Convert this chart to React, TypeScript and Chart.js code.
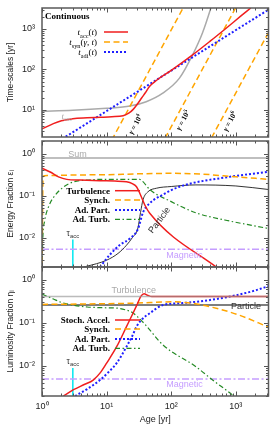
import React, { useEffect, useRef } from 'react';
import { Chart, registerables } from 'chart.js';

Chart.register(...registerables);

const SANS = '"Liberation Sans", Arial, Helvetica, sans-serif';
const SERIF = '"Liberation Serif", "Times New Roman", serif';

const RED = '#f01e1e';
const ORANGE = '#ffa500';
const BLUE = '#1f1fff';
const GREEN = '#248a24';
const GREY = '#aaaaaa';
const LAV = '#c59dff';
const CYAN = '#00e8f0';
const DARK = '#333333';

// ---------- shared age axis ----------
const AGE_MIN = 1;
const AGE_MAX = 3200;
const AGE_TICKS = [1, 10, 100, 1000];
const TAU_ACC = 3.0;
const TAU_LINE = [0.001, 0.009];

// ---------- panel 1 : time-scales ----------
const TS_MIN = 2.15;
const TS_MAX = 3300;
const TS_TICKS = [10, 100, 1000];
const T_ACC_AGE = [1, 1.5, 2, 3, 5, 8, 12, 18, 22, 26, 30, 35, 40, 46, 60, 100, 214, 400, 700, 1200, 1700];
const T_ACC_VAL = [3.4, 4.6, 5.4, 6.1, 6.4, 6.6, 6.8, 7.2, 8.3, 10.5, 14, 20, 27, 38, 55, 95, 229, 500, 1030, 2100, 3300];
const T_ADI_AGE = [1, 3200];
const T_ADI_VAL = [0.94, 3000];
const T_ESC_AGE = [1, 3, 10, 23, 41, 74, 134, 214, 303, 410, 450];
const T_ESC_VAL = [9.3, 9.8, 11, 12.5, 16, 26, 61, 229, 785, 3300, 5500];
const SYN_G4_AGE = [12, 160];
const SYN_G4_VAL = [1.8, 3800];
const SYN_G5_AGE = [80, 1000];
const SYN_G5_VAL = [2.0, 3400];
const SYN_G6_AGE = [420, 3200];
const SYN_G6_VAL = [2.05, 820];
const GAMMA_EXP = ['4', '5', '6'];

// ---------- panel 2 : energy fraction ----------
const FR_MIN = 0.002;
const FR_MAX = 2;
const FR_TICKS = [0.01, 0.1, 1];
const E_SUM = 0.79;
const E_MAG = 0.0053;
const E_TURB_AGE = [1, 1.34, 1.8, 2.42, 3.9, 7.9, 13.4, 20.3, 25.4, 29, 32.6, 39, 46.5, 600];
const E_TURB_VAL = [0.45, 0.365, 0.28, 0.244, 0.235, 0.227, 0.222, 0.214, 0.19, 0.163, 0.114, 0.06, 0.038, 0.0016];
const E_SYN_AGE = [1, 1.04, 1.2, 3, 10, 30, 100, 300, 1000, 3200];
const E_SYN_VAL = [0.0015, 0.29, 0.3, 0.31, 0.315, 0.33, 0.34, 0.325, 0.28, 0.245];
const E_ADP_AGE = [7.9, 11.2, 16, 22.9, 30.5, 36.6, 46.5, 73, 134, 792, 3200];
const E_ADP_VAL = [0.002, 0.0039, 0.0067, 0.0095, 0.016, 0.04, 0.066, 0.104, 0.163, 0.28, 0.37];
const E_ADT_AGE = [1, 1.03, 1.1, 1.26, 1.5, 2.15, 3, 4.9, 10, 32.6, 36.5, 46.5, 100, 241, 700, 3200];
const E_ADT_VAL = [0.0015, 0.01, 0.025, 0.054, 0.09, 0.16, 0.21, 0.235, 0.245, 0.244, 0.215, 0.14, 0.072, 0.039, 0.026, 0.0165];
const E_PART_AGE = [4.4, 7, 10, 15, 20.3, 25, 30.5, 33.5, 36.6, 43.7, 58.8, 100, 241, 1000, 3200];
const E_PART_VAL = [0.002, 0.0024, 0.0029, 0.0042, 0.0066, 0.01, 0.017, 0.04, 0.08, 0.124, 0.15, 0.165, 0.18, 0.17, 0.14];

// ---------- panel 3 : luminosity fraction ----------
const L_TURB = 0.41;
const L_PART = 0.26;
const L_MAG = 0.005;
const L_STO_AGE = [2.15, 3.07, 4.5, 6.2, 8, 10, 14.3, 20.3, 25.6, 30, 34, 38, 43, 50, 100, 3200];
const L_STO_VAL = [0.002, 0.0028, 0.0037, 0.0047, 0.007, 0.0116, 0.028, 0.082, 0.168, 0.28, 0.42, 0.48, 0.44, 0.41, 0.41, 0.41];
const L_SYN_AGE = [1, 10, 30, 100, 200, 437, 1100, 3200];
const L_SYN_VAL = [0.27, 0.28, 0.29, 0.31, 0.29, 0.23, 0.154, 0.08];
const L_ADP_AGE = [3.25, 5, 7.9, 11, 14.3, 20.3, 25, 29, 35, 46.5, 74, 150, 241, 500, 1000, 2000, 3200];
const L_ADP_VAL = [0.002, 0.0029, 0.0047, 0.0075, 0.0116, 0.028, 0.05, 0.082, 0.12, 0.168, 0.26, 0.29, 0.31, 0.36, 0.44, 0.57, 0.72];
const L_ADT_AGE = [1, 1.5, 2, 3, 5, 10, 15, 20, 25, 30, 40, 74, 241, 437, 890, 1000];
const L_ADT_VAL = [0.47, 0.36, 0.3, 0.26, 0.235, 0.225, 0.22, 0.2, 0.175, 0.14, 0.09, 0.031, 0.0096, 0.0047, 0.0021, 0.0018];

// ---------- helpers ----------
const SUP: Record<string, string> = { '0': '⁰', '1': '¹', '2': '²', '3': '³', '4': '⁴', '5': '⁵', '6': '⁶', '-': '⁻' };
const pow10Label = (v: number) => {
  const e = Math.round(Math.log10(v));
  return '10' + String(e).split('').map((c) => SUP[c]).join('');
};

const DASH_ORANGE = [6, 3.5];
const DASH_BLUE = [2, 2];
const DASH_GREEN = [5, 2.5, 1.5, 2.5];
const DASH_LAV = [7, 2.5, 2, 2.5];

function series(age: number[], val: number[], color: string, width: number, dash: number[] = [], smooth = true) {
  return {
    data: age.map((t, i) => ({ x: t, y: val[i] })),
    borderColor: color,
    borderWidth: width,
    borderDash: dash,
    pointRadius: 0,
    fill: false,
    tension: 0,
    cubicInterpolationMode: smooth ? 'monotone' : 'default',
  };
}
const hline = (v: number, color: string, width: number, dash: number[] = []) =>
  series([AGE_MIN, AGE_MAX], [v, v], color, width, dash, false);

type Part = { t: string; sub?: boolean; sup?: boolean; it?: boolean };
function drawRich(
  ctx: CanvasRenderingContext2D, parts: Part[], x: number, y: number, size: number,
  family: string, color: string, align: 'left' | 'right' | 'center', weight = ''
) {
  const f = (p: Part) =>
    `${p.it ? 'italic ' : ''}${weight ? weight + ' ' : ''}${p.sub || p.sup ? (size * 0.7).toFixed(1) : size}px ${family}`;
  let w = 0;
  for (const p of parts) { ctx.font = f(p); w += ctx.measureText(p.t).width; }
  let cx = align === 'right' ? x - w : align === 'center' ? x - w / 2 : x;
  ctx.fillStyle = color;
  ctx.textAlign = 'left';
  ctx.textBaseline = 'alphabetic';
  for (const p of parts) {
    ctx.font = f(p);
    const dy = p.sub ? size * 0.28 : p.sup ? -size * 0.4 : 0;
    ctx.fillText(p.t, cx, y + dy);
    cx += ctx.measureText(p.t).width;
  }
}

function sample(ctx: CanvasRenderingContext2D, x0: number, x1: number, y: number, color: string, width: number, dash: number[]) {
  ctx.save();
  ctx.strokeStyle = color;
  ctx.lineWidth = width;
  ctx.setLineDash(dash);
  ctx.beginPath();
  ctx.moveTo(x0, y);
  ctx.lineTo(x1, y);
  ctx.stroke();
  ctx.restore();
}

function boldLegend(ctx: CanvasRenderingContext2D, rows: { label: string; color: string; width: number; dash: number[] }[], left: number, top: number, dys: number[]) {
  rows.forEach((r, i) => {
    const y = top + dys[i];
    ctx.font = `bold 9px ${SERIF}`;
    ctx.fillStyle = '#000';
    ctx.textAlign = 'right';
    ctx.textBaseline = 'alphabetic';
    ctx.fillText(r.label, left + 68, y + 3);
    sample(ctx, left + 73, left + 98, y, r.color, r.width, r.dash);
  });
}

function logTickValues(min: number, max: number) {
  const out: { v: number; major: boolean }[] = [];
  for (let e = Math.floor(Math.log10(min)); e <= Math.ceil(Math.log10(max)); e++) {
    for (let m = 1; m < 10; m++) {
      const v = m * Math.pow(10, e);
      if (v >= min * 0.9999 && v <= max * 1.0001) out.push({ v, major: m === 1 });
    }
  }
  return out;
}

function framePlugin(extra: (chart: any, ctx: CanvasRenderingContext2D) => void) {
  return {
    id: 'frameAndNotes',
    afterDraw(chart: any) {
      const { ctx, chartArea: a, scales } = chart;
      const xs = scales.x;
      const ys = scales.y;
      ctx.save();
      ctx.strokeStyle = '#555';
      ctx.lineWidth = 1;
      ctx.beginPath();
      for (const { v, major } of logTickValues(xs.min, xs.max)) {
        const px = Math.round(xs.getPixelForValue(v)) + 0.5;
        const L = major ? 4.5 : 2.5;
        ctx.moveTo(px, a.bottom); ctx.lineTo(px, a.bottom - L);
        ctx.moveTo(px, a.top); ctx.lineTo(px, a.top + L);
      }
      for (const { v, major } of logTickValues(ys.min, ys.max)) {
        const py = Math.round(ys.getPixelForValue(v)) + 0.5;
        const L = major ? 4.5 : 2.5;
        ctx.moveTo(a.left, py); ctx.lineTo(a.left + L, py);
        ctx.moveTo(a.right, py); ctx.lineTo(a.right - L, py);
      }
      ctx.stroke();
      ctx.lineWidth = 1.5;
      ctx.strokeStyle = '#5a5a5a';
      ctx.strokeRect(a.left, a.top, a.right - a.left, a.bottom - a.top);
      extra(chart, ctx);
      ctx.restore();
    },
  };
}

function tauLabel(chart: any, ctx: CanvasRenderingContext2D) {
  const x = chart.scales.x.getPixelForValue(TAU_ACC);
  const y = chart.scales.y.getPixelForValue(TAU_LINE[1]);
  drawRich(ctx, [{ t: 'τ' }, { t: 'acc', sub: true }], x, y - 4, 8.5, SANS, '#333', 'center');
}

type PanelCfg = {
  top: number;
  bottom: number;
  yMin: number;
  yMax: number;
  yTicks: number[];
  yTitle: string;
  showX: boolean;
  datasets: any[];
  extra: (chart: any, ctx: CanvasRenderingContext2D) => void;
};

function buildChart(canvas: HTMLCanvasElement, cfg: PanelCfg) {
  return new Chart(canvas, {
    type: 'line',
    data: { datasets: cfg.datasets },
    options: {
      animation: false,
      responsive: false,
      events: [],
      layout: { padding: { left: 0, right: 6.5, top: cfg.top, bottom: cfg.bottom } },
      plugins: { legend: { display: false }, tooltip: { enabled: false } },
      scales: {
        x: {
          type: 'logarithmic',
          min: AGE_MIN,
          max: AGE_MAX,
          display: cfg.showX,
          afterBuildTicks: (s: any) => { s.ticks = AGE_TICKS.map((v) => ({ value: v })); },
          afterFit: (s: any) => {
            if (cfg.showX) s.height = 44;
            else s.height = 0;
            s.paddingLeft = 0;
            s.paddingRight = 0;
          },
          grid: { display: false, drawTicks: false },
          border: { display: false },
          ticks: {
            autoSkip: false,
            maxRotation: 0,
            padding: 5,
            color: '#222',
            font: { size: 9, family: SANS },
            callback: (v: any) => pow10Label(Number(v)),
          },
          title: {
            display: true,
            text: 'Age [yr]',
            color: '#222',
            font: { size: 9, family: SANS },
            padding: { top: 0, bottom: 15.5 },
          },
        },
        y: {
          type: 'logarithmic',
          min: cfg.yMin,
          max: cfg.yMax,
          afterBuildTicks: (s: any) => { s.ticks = cfg.yTicks.map((v) => ({ value: v })); },
          afterFit: (s: any) => { s.width = 42; s.paddingTop = 0; s.paddingBottom = 0; },
          grid: { display: false, drawTicks: false },
          border: { display: false },
          ticks: {
            autoSkip: false,
            padding: 7,
            color: '#222',
            font: { size: 9, family: SANS },
            callback: (v: any) => pow10Label(Number(v)),
          },
          title: {
            display: true,
            text: cfg.yTitle,
            color: '#222',
            font: { size: 8.5, family: SANS },
            padding: { top: 6, bottom: 0 },
          },
        },
      },
    } as any,
    plugins: [framePlugin(cfg.extra)],
  });
}

const panel1 = (): PanelCfg => ({
  top: 8,
  bottom: 303,
  yMin: TS_MIN,
  yMax: TS_MAX,
  yTicks: TS_TICKS,
  yTitle: 'Time-scales [yr]',
  showX: false,
  datasets: [
    series(T_ACC_AGE, T_ACC_VAL, RED, 1.5),
    series(T_ADI_AGE, T_ADI_VAL, BLUE, 2, DASH_BLUE, false),
    series(SYN_G4_AGE, SYN_G4_VAL, ORANGE, 1.5, DASH_ORANGE, false),
    series(SYN_G5_AGE, SYN_G5_VAL, ORANGE, 1.5, DASH_ORANGE, false),
    series(SYN_G6_AGE, SYN_G6_VAL, ORANGE, 1.5, DASH_ORANGE, false),
    series(T_ESC_AGE, T_ESC_VAL, GREY, 1.5),
  ],
  extra: (chart, ctx) => {
    const a = chart.chartArea;
    const xs = chart.scales.x;
    const ys = chart.scales.y;
    ctx.font = `bold 9px ${SERIF}`;
    ctx.fillStyle = '#000';
    ctx.textAlign = 'left';
    ctx.textBaseline = 'alphabetic';
    ctx.fillText('Continuous', a.left + 3, a.top + 11);
    const rows: { parts: Part[]; color: string; width: number; dash: number[] }[] = [
      { parts: [{ t: 't', it: true }, { t: 'acc', sub: true }, { t: '(' }, { t: 't', it: true }, { t: ')' }], color: RED, width: 1.5, dash: [] },
      { parts: [{ t: 't', it: true }, { t: 'syn', sub: true }, { t: '(' }, { t: 'γ', it: true }, { t: ', ' }, { t: 't', it: true }, { t: ')' }], color: ORANGE, width: 1.5, dash: DASH_ORANGE },
      { parts: [{ t: 't', it: true }, { t: 'adi', sub: true }, { t: '(' }, { t: 't', it: true }, { t: ')' }], color: BLUE, width: 2, dash: DASH_BLUE },
    ];
    rows.forEach((r, i) => {
      const y = a.top + 24 + i * 10;
      drawRich(ctx, r.parts, a.left + 55, y + 3, 9, SERIF, '#000', 'right');
      sample(ctx, a.left + 62, a.left + 86, y, r.color, r.width, r.dash);
    });
    drawRich(ctx, [{ t: 't', it: true }, { t: 'esc', sub: true }], xs.getPixelForValue(2.0), ys.getPixelForValue(6.0), 9, SERIF, GREY, 'left');
    const gammaPos = [[27.3, 4.5], [149, 5.7], [790, 5.35]];
    gammaPos.forEach(([t, v], i) => {
      ctx.save();
      ctx.translate(xs.getPixelForValue(t), ys.getPixelForValue(v));
      ctx.rotate((-62 * Math.PI) / 180);
      drawRich(ctx, [{ t: 'γ', it: true }, { t: ' = 10' }, { t: GAMMA_EXP[i], sup: true }], 0, 3, 7.5, SERIF, '#000', 'center', 'bold');
      ctx.restore();
    });
  },
});

const panel2 = (): PanelCfg => ({
  top: 141,
  bottom: 173,
  yMin: FR_MIN,
  yMax: FR_MAX,
  yTicks: FR_TICKS,
  yTitle: 'Energy Fraction εᵢ',
  showX: false,
  datasets: [
    series(E_TURB_AGE, E_TURB_VAL, RED, 1.5),
    series(E_SYN_AGE, E_SYN_VAL, ORANGE, 1.5, DASH_ORANGE),
    series(E_ADP_AGE, E_ADP_VAL, BLUE, 2, DASH_BLUE),
    series(E_ADT_AGE, E_ADT_VAL, GREEN, 1.2, DASH_GREEN),
    series(E_PART_AGE, E_PART_VAL, DARK, 1),
    hline(E_SUM, GREY, 1.5),
    hline(E_MAG, LAV, 1.5, DASH_LAV),
    series([TAU_ACC, TAU_ACC], TAU_LINE, CYAN, 1.5, [], false),
  ],
  extra: (chart, ctx) => {
    const a = chart.chartArea;
    const xs = chart.scales.x;
    const ys = chart.scales.y;
    boldLegend(ctx, [
      { label: 'Turbulence', color: RED, width: 1.5, dash: [] },
      { label: 'Synch.', color: ORANGE, width: 1.5, dash: DASH_ORANGE },
      { label: 'Ad. Part.', color: BLUE, width: 2, dash: DASH_BLUE },
      { label: 'Ad. Turb.', color: GREEN, width: 1.2, dash: DASH_GREEN },
    ], a.left, a.top, [49.7, 59, 69, 78.3]);
    ctx.font = `9px ${SANS}`;
    ctx.textBaseline = 'alphabetic';
    ctx.textAlign = 'left';
    ctx.fillStyle = GREY;
    ctx.fillText('Sum', xs.getPixelForValue(2.54), ys.getPixelForValue(E_SUM) - 0.5);
    ctx.fillStyle = LAV;
    ctx.textAlign = 'center';
    ctx.fillText('Magnetic', xs.getPixelForValue(160), ys.getPixelForValue(E_MAG) + 8.5);
    ctx.save();
    ctx.translate(xs.getPixelForValue(66), ys.getPixelForValue(0.026));
    ctx.rotate((-53 * Math.PI) / 180);
    ctx.fillStyle = DARK;
    ctx.textAlign = 'center';
    ctx.textBaseline = 'middle';
    ctx.fillText('Particle', 0, 0);
    ctx.restore();
    tauLabel(chart, ctx);
  },
});

const panel3 = (): PanelCfg => ({
  top: 267,
  bottom: 0,
  yMin: FR_MIN,
  yMax: FR_MAX,
  yTicks: FR_TICKS,
  yTitle: 'Luminosity Fraction ηᵢ',
  showX: true,
  datasets: [
    hline(L_TURB, 'rgba(150,150,150,0.65)', 1.5),
    series(L_STO_AGE, L_STO_VAL, RED, 1.5),
    series(L_SYN_AGE, L_SYN_VAL, ORANGE, 1.5, DASH_ORANGE),
    series(L_ADP_AGE, L_ADP_VAL, BLUE, 2, DASH_BLUE),
    series(L_ADT_AGE, L_ADT_VAL, GREEN, 1.2, DASH_GREEN),
    hline(L_PART, '#555', 1.5),
    hline(L_MAG, LAV, 1.5, DASH_LAV),
    series([TAU_ACC, TAU_ACC], TAU_LINE, CYAN, 1.5, [], false),
  ],
  extra: (chart, ctx) => {
    const a = chart.chartArea;
    const xs = chart.scales.x;
    const ys = chart.scales.y;
    boldLegend(ctx, [
      { label: 'Stoch. Accel.', color: RED, width: 1.5, dash: [] },
      { label: 'Synch.', color: ORANGE, width: 1.5, dash: DASH_ORANGE },
      { label: 'Ad. Part.', color: BLUE, width: 2, dash: DASH_BLUE },
      { label: 'Ad. Turb.', color: GREEN, width: 1.2, dash: DASH_GREEN },
    ], a.left, a.top, [53, 62, 72, 81.3]);
    ctx.font = `9px ${SANS}`;
    ctx.textBaseline = 'alphabetic';
    ctx.textAlign = 'center';
    ctx.fillStyle = GREY;
    ctx.fillText('Turbulence', xs.getPixelForValue(26.3), ys.getPixelForValue(L_TURB) - 3.5);
    ctx.fillStyle = LAV;
    ctx.fillText('Magnetic', xs.getPixelForValue(160), ys.getPixelForValue(L_MAG) + 8.5);
    ctx.fillStyle = DARK;
    ctx.textBaseline = 'middle';
    ctx.fillText('Particle', xs.getPixelForValue(1440), ys.getPixelForValue(L_PART) + 1);
    tauLabel(chart, ctx);
  },
});

export default function App() {
  const r1 = useRef<HTMLCanvasElement>(null);
  const r2 = useRef<HTMLCanvasElement>(null);
  const r3 = useRef<HTMLCanvasElement>(null);

  useEffect(() => {
    document.body.style.margin = '0';
    const charts = [
      buildChart(r1.current as HTMLCanvasElement, panel1()),
      buildChart(r2.current as HTMLCanvasElement, panel2()),
      buildChart(r3.current as HTMLCanvasElement, panel3()),
    ];
    return () => charts.forEach((c) => c.destroy());
  }, []);

  const style: React.CSSProperties = { position: 'absolute', left: 0, top: 0, width: 275, height: 440 };
  return (
    <div style={{ position: 'relative', width: 275, height: 440, background: '#fff' }}>
      <canvas ref={r1} width={275} height={440} style={style} />
      <canvas ref={r2} width={275} height={440} style={style} />
      <canvas ref={r3} width={275} height={440} style={style} />
    </div>
  );
}
